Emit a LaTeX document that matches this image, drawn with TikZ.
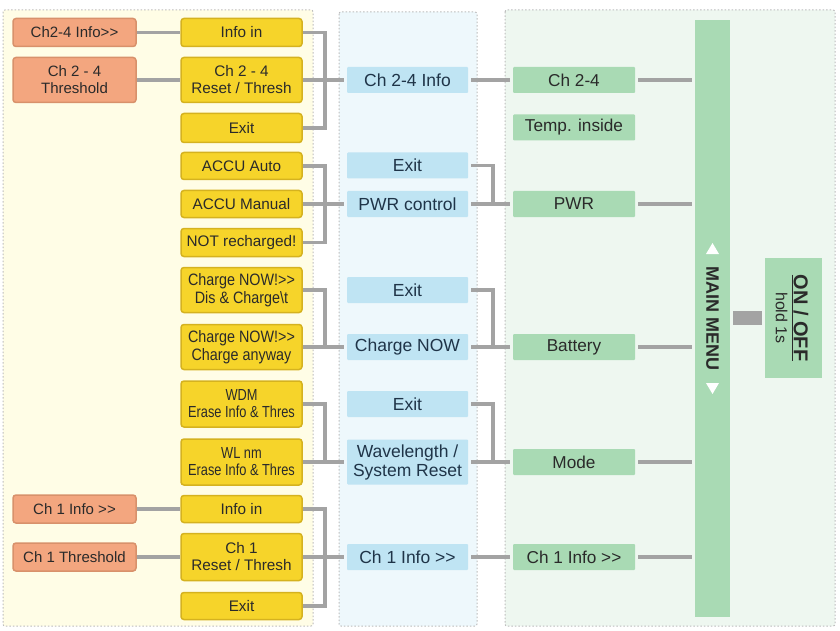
\documentclass[tikz,border=0pt]{standalone}
\usepackage{fontspec}
\setmainfont{Liberation Sans}[Ligatures=TeXOff]
\newfontfamily\condA{Liberation Sans}[FakeStretch=0.87, Ligatures=TeXOff]
\newfontfamily\condB{Liberation Sans}[FakeStretch=0.80, Ligatures=TeXOff]
\usetikzlibrary{calc}
\definecolor{orF}{HTML}{F3A67F}
\definecolor{orD}{HTML}{D8916B}
\definecolor{yeF}{HTML}{F6D42A}
\definecolor{yeD}{HTML}{D5B21F}
\definecolor{blF}{HTML}{BFE4F3}
\definecolor{grF}{HTML}{A9DAB4}
\definecolor{pY}{HTML}{FFFDE6}
\definecolor{pB}{HTML}{EEF8FC}
\definecolor{pG}{HTML}{EEF7F0}
\definecolor{lnC}{HTML}{A3A3A3}
\definecolor{dotC}{HTML}{BDBDBD}
\definecolor{txt}{HTML}{2A2A2A}
\definecolor{btxt}{HTML}{1F3448}
\begin{document}
\begin{tikzpicture}[x=1pt,y=-1pt,
  box/.style={rectangle, inner sep=0pt, align=center, text=txt},
  obox/.style={box, fill=orF, draw=orD, line width=1.5pt, rounded corners=3pt,
    minimum width=123pt, font=\fontsize{15}{17}\selectfont},
  ybox/.style={box, fill=yeF, draw=yeD, line width=1.5pt, rounded corners=3pt,
    minimum width=121pt, font=\fontsize{15.3}{17}\selectfont},
  bbox/.style={box, fill=blF, rounded corners=1pt, minimum width=121pt,
    minimum height=26pt, text=btxt, font=\fontsize{17.5}{19}\selectfont},
  gbox/.style={box, fill=grF, rounded corners=1pt, minimum width=122pt,
    minimum height=26pt, font=\fontsize{17.2}{19}\selectfont},
  panel/.style={draw=dotC, line width=1pt, dash pattern=on 1.5pt off 2pt, rounded corners=2pt},
  conn/.style={draw=lnC, line width=3.5pt},
  sh/.style={shorten <=3pt, shorten >=3pt}
]
\useasboundingbox (0,0) rectangle (840,631);
\fill[white] (0,0) rectangle (840,631);
% panels
\draw[panel, fill=pY] (3,10) rectangle (313,626);
\draw[panel, fill=pB] (339,12) rectangle (477,626);
\draw[panel, fill=pG] (505,10) rectangle (835,626);

% orange boxes
\node[obox, minimum height=28pt] (O1) at (74.5,32.5) {Ch2-4 Info>>};
\node[obox, minimum height=45pt] (O2) at (74.5,80) {Ch 2 - 4\\Threshold};
\node[obox, minimum height=28pt] (O3) at (74.5,509) {Ch 1 Info >>};
\node[obox, minimum height=28pt] (O4) at (74.5,557) {Ch 1 Threshold};

% yellow boxes
\node[ybox, minimum height=28pt] (Y1) at (241.5,32.5) {Info in};
\node[ybox, minimum height=45pt] (Y2) at (241.5,80) {Ch 2 - 4\\Reset / Thresh};
\node[ybox, minimum height=29pt] (Y3) at (241.5,128) {Exit};
\node[ybox, minimum height=27pt] (Y4) at (241.5,166) {ACCU Auto};
\node[ybox, minimum height=27pt] (Y5) at (241.5,204) {ACCU Manual};
\node[ybox, minimum height=28pt] (Y6) at (241.5,242.5) {NOT recharged!};
\node[ybox, minimum height=45pt, font=\condA\fontsize{16.5}{17.5}\selectfont] (Y7) at (241.5,290) {Charge NOW!>>\\Dis \& Charge\textbackslash t};
\node[ybox, minimum height=45pt, font=\condA\fontsize{16.5}{17.5}\selectfont] (Y8) at (241.5,347) {Charge NOW!>>\\Charge anyway};
\node[ybox, minimum height=46pt, font=\condB\fontsize{16}{17}\selectfont] (Y9) at (241.5,404) {WDM\\Erase Info \& Thres};
\node[ybox, minimum height=46pt, font=\condB\fontsize{16}{17}\selectfont] (Y10) at (241.5,462) {WL nm\\Erase Info \& Thres};
\node[ybox, minimum height=27pt] (Y11) at (241.5,509) {Info in};
\node[ybox, minimum height=47pt] (Y12) at (241.5,557) {Ch 1\\Reset / Thresh};
\node[ybox, minimum height=27pt] (Y13) at (241.5,606) {Exit};

% blue boxes
\node[bbox] (B1) at (407.5,80) {Ch 2-4 Info};
\node[bbox] (B2) at (407.5,165.5) {Exit};
\node[bbox] (B3) at (407.5,204) {PWR control};
\node[bbox] (B4) at (407.5,290) {Exit};
\node[bbox] (B5) at (407.5,347) {Charge NOW};
\node[bbox] (B6) at (407.5,404) {Exit};
\node[bbox, minimum height=45pt] (B7) at (407.5,462) {Wavelength /\\System Reset};
\node[bbox] (B8) at (407.5,557) {Ch 1 Info >>};

% green boxes
\node[gbox] (G1) at (574,80) {Ch 2-4};
\node[gbox] (G2) at (574,127.5) {Temp. inside};
\node[gbox] (G3) at (574,204) {PWR};
\node[gbox] (G4) at (574,347) {Battery};
\node[gbox] (G5) at (574,462) {Mode};
\node[gbox] (G6) at (574,557) {Ch 1 Info >>};

% main menu bar
\node[box, fill=grF, minimum width=35pt, minimum height=597pt] (bar) at (712.5,318.5) {};
\node[box, rotate=-90, font=\bfseries\fontsize{18}{20}\selectfont] (mm) at (712.5,318.5) {MAIN MENU};
\fill[white] (706,254) -- (719,254) -- (712.5,243) -- cycle;
\fill[white] (706,383) -- (719,383) -- (712.5,394) -- cycle;

% on/off
\node[box, fill=grF, minimum width=57pt, minimum height=120pt] (onoff) at (793.5,318) {};
\node[box, rotate=-90, font=\fontsize{16}{19}\selectfont] (ontxt) at (792,318)
  {\underline{\bfseries\fontsize{20}{22}\selectfont ON / OFF}\\[-1pt]hold 1s};

% connectors orange -> yellow
\draw[conn] (O1.east) -- (Y1.west);
\draw[conn] (O2.east) -- (Y2.west);
\draw[conn] (O3.east) -- (Y11.west);
\draw[conn] (O4.east) -- (Y12.west);

% yellow -> blue
\draw[conn] (Y1.east) -- ++(22,0) |- (Y3.east);
\draw[conn, shorten >=3pt] (Y2.east) -- (B1.west);
\draw[conn] (Y4.east) -- ++(22,0) |- (Y6.east);
\draw[conn, shorten >=3pt] (Y5.east) -- (B3.west);
\draw[conn] (Y7.east) -- ++(22,0) |- (Y8.east);
\draw[conn, shorten >=3pt] (Y8.east) -- (B5.west);
\draw[conn] (Y9.east) -- ++(22,0) |- (Y10.east);
\draw[conn, shorten >=3pt] (Y10.east) -- (B7.west);
\draw[conn] (Y11.east) -- ++(22,0) |- (Y13.east);
\draw[conn, shorten >=3pt] (Y12.east) -- (B8.west);

% blue -> green
\draw[conn, sh] (B1.east) -- (G1.west);
\draw[conn, shorten <=3pt] (B2.east) -| ($(B3.east)+(25,0)$);
\draw[conn, sh] (B3.east) -- (G3.west);
\draw[conn, shorten <=3pt] (B4.east) -| ($(B5.east)+(25,0)$);
\draw[conn, sh] (B5.east) -- (G4.west);
\draw[conn, shorten <=3pt] (B6.east) -| ($(B7.east)+(25,0)$);
\draw[conn, sh] (B7.east) -- (G5.west);
\draw[conn, sh] (B8.east) -- (G6.west);

% green -> main menu
\draw[conn, sh] (G1.east) -- (G1.east -| bar.west);
\draw[conn, sh] (G3.east) -- (G3.east -| bar.west);
\draw[conn, sh] (G4.east) -- (G4.east -| bar.west);
\draw[conn, sh] (G5.east) -- (G5.east -| bar.west);
\draw[conn, sh] (G6.east) -- (G6.east -| bar.west);

% main menu -> on/off
\draw[draw=lnC, line width=14pt, sh] (bar.east |- onoff.west) -- (onoff.west);
\end{tikzpicture}
\end{document}
